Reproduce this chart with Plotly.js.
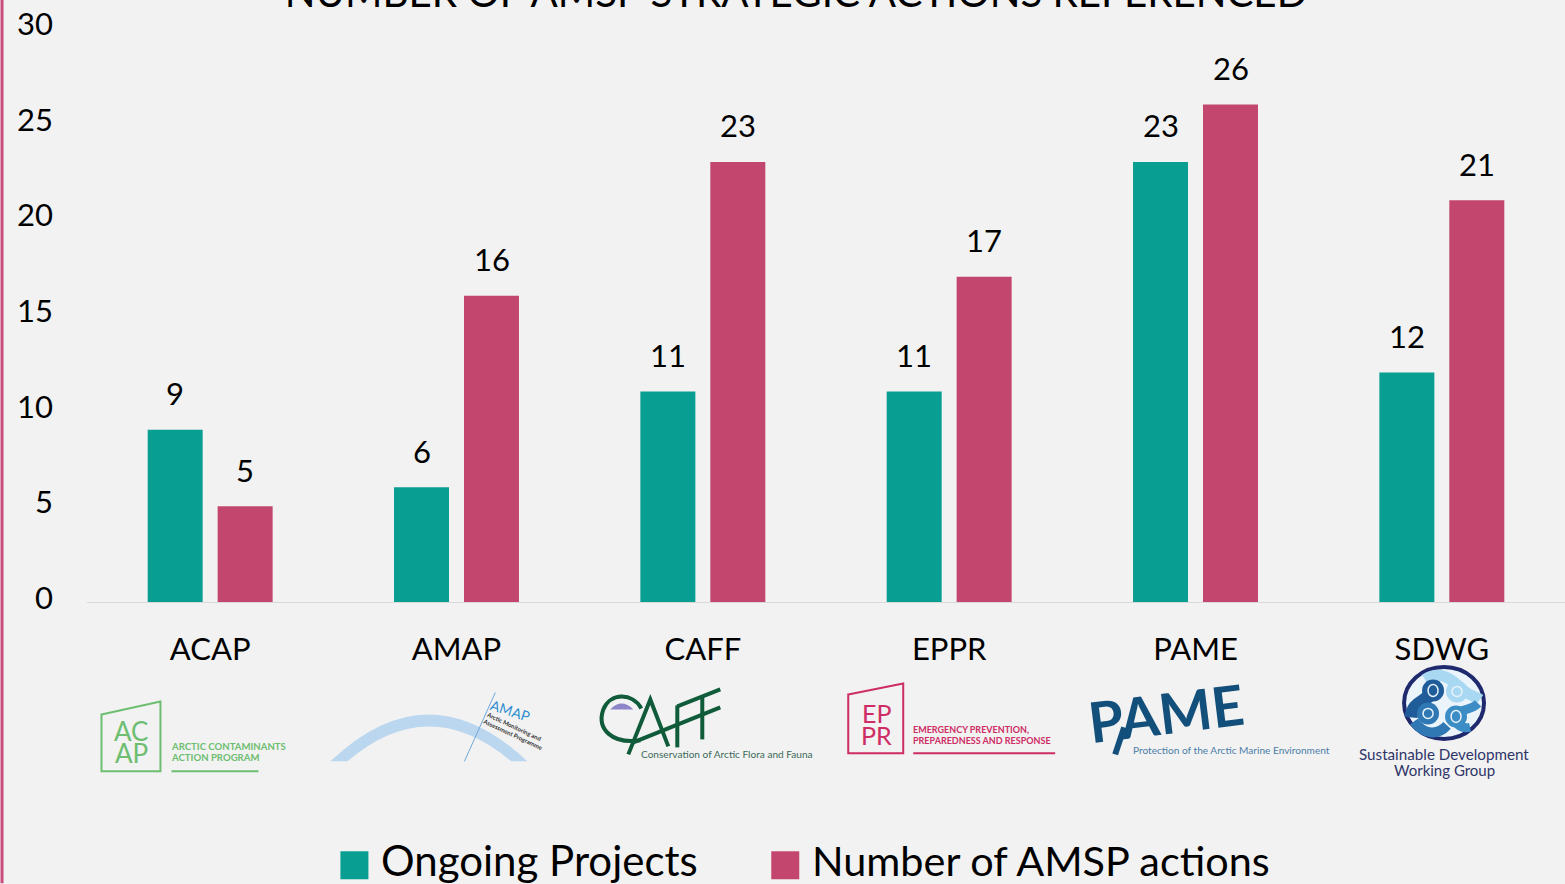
<!DOCTYPE html>
<html><head><meta charset="utf-8">
<script src="https://cdn.plot.ly/plotly-3.0.1.min.js"></script>
<style>html,body{margin:0;padding:0;background:#F2F2F2;overflow:hidden}</style></head>
<body><div id="chart" style="width:1565px;height:884px"></div>
<script>
const categories = ["ACAP","AMAP","CAFF","EPPR","PAME","SDWG"];
const ongoingProjects = [9,6,11,11,23,12];
const amspActions = [5,16,23,17,26,21];
const seriesNames = ["Ongoing Projects","Number of AMSP actions"];
const yTicks = [0,5,10,15,20,25,30];
const chartTitle = "NUMBER OF AMSP STRATEGIC ACTIONS REFERENCED";

const W=1565,H=884,L=86.5,T=28,B=602.5;
const TEAL="#089E92",PINK="#C2466D",FONT="Lato, 'Open Sans', sans-serif";
const px=x=>(x-L)/(W-L), py=y=>(B-y)/(B-T);
const P=s=>s.replace(/(-?[\d.]+),(-?[\d.]+)/g,(m,a,b)=>px(+a).toFixed(5)+','+py(+b).toFixed(5));
const shapes=[],ann=[];
const path=(d,o={})=>shapes.push({type:'path',xref:'paper',yref:'paper',path:P(d),
  fillcolor:o.fill||'rgba(0,0,0,0)',line:{color:o.color||'rgba(0,0,0,0)',width:o.width||0}});
const ell=(cx,cy,rx,ry,fill,color,width)=>shapes.push({type:'circle',xref:'paper',yref:'paper',
  x0:px(cx-rx),x1:px(cx+rx),y0:py(cy+ry),y1:py(cy-ry),fillcolor:fill,line:{color:color||'rgba(0,0,0,0)',width:width||0}});
const txt=(text,x,y,size,color,o={})=>ann.push({xref:'paper',yref:'paper',x:px(x),y:py(y),text,showarrow:false,
  xanchor:o.anchor||'center',yanchor:'middle',textangle:o.angle||0,font:{family:o.family||FONT,size,color,weight:o.weight||400}});

// page accent
path('M0,0 L3,0 L3,884 L0,884 Z',{fill:'#C94C7C'});

// ACAP logo
const G='#6DBE70';
path('M101,715 L160,702 L160,772 L101,772 Z',{color:G,width:2});
txt('AC',131,732,26,G);txt('AP',131,754,26,G);
txt('ARCTIC CONTAMINANTS',169,747.5,9.6,G,{anchor:'left',weight:700});
txt('ACTION PROGRAM',169,758.5,9.6,G,{anchor:'left',weight:700});
path('M171,772 L258,772',{color:G,width:2});

// AMAP logo
path('M330,762 Q428,668 527,762 L511,762 Q428,692 347,762 Z',{fill:'#BBD7F0'});
path('M464,762 L495,693',{color:'#6FA9DC',width:1});
txt('AMAP',510,711,14,'#2F8FD0',{angle:18});
txt('Arctic Monitoring and',514,727,6,'#333',{angle:25,weight:700});
txt('Assessment Programme',513,735,6,'#333',{angle:25,weight:700});

// CAFF logo
const C='#0F5B3A';
path('M610,710 Q621,698 633,710 Z',{fill:'#8C85C8'});
path('M641,709 C632,693 610,693 603,710 C596,730 612,745 640,741',{color:C,width:4});
path('M628,755 L650,700 L668,747',{color:C,width:4});
path('M633,743 L720,708',{color:C,width:4});
path('M677,707 L720,690',{color:C,width:4});
path('M677,748 L677,706',{color:C,width:4});
path('M702,740 L702,698',{color:C,width:4});
txt('Conservation of Arctic Flora and Fauna',639,754.5,10.1,'#3C6A58',{anchor:'left'});

// EPPR logo
const E='#CE2C64';
path('M848,695 L903,684 L903,754 L848,754 Z',{color:E,width:2});
txt('EP',876,714,25,E);txt('PR',876,736,25,E);
txt('EMERGENCY PREVENTION,',911,730,9,E,{anchor:'left',weight:700});
txt('PREPAREDNESS AND RESPONSE',911,741,9,E,{anchor:'left',weight:700});
path('M913,754 L1055,754',{color:E,width:2});

// PAME logo
const N='#134F7B';
txt('PAME',1166,713,56,N,{angle:-7,weight:700});
path('M1115,755 L1124,728',{color:N,width:6});
txt('Protection of the Arctic Marine Environment',1131,751,10.1,'#4B7DA6',{anchor:'left'});

// SDWG logo
ell(1444,703.5,40,36,'#EAF4FA','#1F2A6E',4);
path('M1425,680 C1440,670 1452,680 1462,690 C1470,697 1476,697 1480,700',{color:'#A8D8F2',width:11});
path('M1433,690 C1428,704 1413,700 1411,718',{color:'#1F5C99',width:13});
path('M1478,704 C1470,712 1462,708 1456,716 C1452,722 1460,730 1470,728',{color:'#3C8CC6',width:9});
path('M1414,722 C1424,736 1438,736 1447,726',{color:'#2F78B4',width:10});
ell(1433,691,11,11,'#1F5C99');ell(1433,691,5,6,'rgba(0,0,0,0)','#E8F3FA',1.5);
ell(1457,692,11,11,'#A8D8F2');ell(1457,692,5,5,'rgba(0,0,0,0)','#E8F3FA',1.5);
ell(1456,717,11,11,'#3C8CC6');ell(1456,717,5,6,'rgba(0,0,0,0)','#E8F3FA',1.5);
ell(1428,714,11,11,'#2F78B4');ell(1428,714,5,5,'rgba(0,0,0,0)','#E8F3FA',1.5);
txt('Sustainable Development',1444,754.5,15.2,'#2F3568');
txt('Working Group',1444,770.5,15,'#2F3568');

// series legend
const swatch=(x,c)=>path(`M${x},852 L${x+28},852 L${x+28},880 L${x},880 Z`,{fill:c});
swatch(340,TEAL);swatch(771,PINK);
txt(seriesNames[0],379,861,42,'#000',{anchor:'left'});
txt(seriesNames[1],810,861,41.4,'#000',{anchor:'left'});

// value labels, positioned from the data through the axes
const valueLabels=(vals,shift)=>vals.map((v,i)=>({xref:'x',yref:'y',x:categories[i],y:v,text:String(v),showarrow:false,
  xshift:shift,yshift:36.5,yanchor:'middle',font:{family:FONT,size:31,color:'#000'}}));

const traces=[
 {type:'bar',name:seriesNames[0],x:categories,y:ongoingProjects,marker:{color:TEAL}},
 {type:'bar',name:seriesNames[1],x:categories,y:amspActions,marker:{color:PINK}}
];
const layout={
 width:W,height:H,paper_bgcolor:'#F2F2F2',plot_bgcolor:'#F2F2F2',showlegend:false,
 margin:{l:L,r:0,t:T,b:H-B,pad:0},barmode:'group',bargap:0.432,bargroupgap:0.214,
 font:{family:FONT,color:'#000'},
 title:{text:chartTitle,font:{family:FONT,size:40.3,color:'#000',weight:400},xref:'container',yref:'container',x:796/W,xanchor:'center',y:1-7/H,yanchor:'bottom'},
 xaxis:{type:'category',categoryorder:'array',categoryarray:categories,showgrid:false,showline:true,linecolor:'#D9D9D9',linewidth:1,zeroline:false,
   ticks:'',tickfont:{family:FONT,size:31,color:'#000'},ticklabelstandoff:20},
 yaxis:{range:[0,30],tickmode:'array',tickvals:yTicks,ticktext:yTicks.map(String),showgrid:false,showline:false,zeroline:false,ticks:'',
   tickfont:{family:FONT,size:31,color:'#000'},ticklabelstandoff:33,ticklabelshift:-4},
 shapes,annotations:ann.concat(valueLabels(ongoingProjects,-35),valueLabels(amspActions,35))
};
Plotly.newPlot('chart',traces,layout,{displayModeBar:false,staticPlot:true});
</script></body></html>
